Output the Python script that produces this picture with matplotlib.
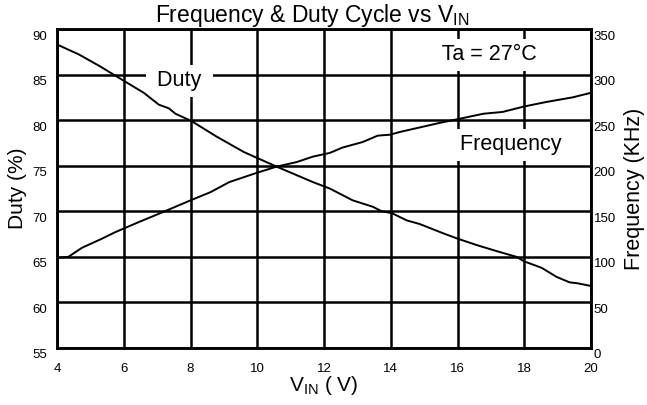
import matplotlib
matplotlib.use("Agg")
import matplotlib.pyplot as plt
import matplotlib.transforms as mtransforms

plt.rcParams['font.family'] = ['Liberation Sans', 'DejaVu Sans']
plt.rcParams['mathtext.fontset'] = 'custom'
plt.rcParams['mathtext.rm'] = 'Liberation Sans'
plt.rcParams['mathtext.it'] = 'Liberation Sans'

# Duty cycle (%) vs VIN (V)
duty_v = [4.0, 4.66, 5.29, 5.83, 6.6, 7.05, 7.35, 7.55, 8.03, 8.78, 9.6, 10.58, 11.67, 12.17,
          12.86, 13.46, 13.73, 14.03, 14.48, 14.87, 15.56, 16.0, 16.57, 17.2, 17.77, 18.0,
          18.52, 18.97, 19.36, 19.6, 20.0]
duty_pct = [88.3, 87.2, 85.9, 84.7, 83.0, 81.7, 81.3, 80.7, 79.9, 78.2, 76.5, 74.9, 73.2, 72.5,
            71.2, 70.5, 70.0, 69.8, 69.0, 68.6, 67.6, 67.0, 66.3, 65.6, 65.0, 64.5,
            63.8, 62.8, 62.2, 62.1, 61.8]

# Frequency (kHz) vs VIN (V)
freq_v = [4.0, 4.34, 4.75, 5.35, 5.74, 6.44, 7.1, 8.0, 8.6, 9.16, 9.97, 10.58, 11.18, 11.67,
          12.17, 12.56, 13.16, 13.61, 13.97, 14.27, 14.87, 15.47, 16.0, 16.77, 17.35, 18.0,
          18.67, 19.45, 20.0]
freq_khz = [99, 100, 110, 120, 127, 138, 148, 162, 171, 182, 192, 199, 204, 210,
            214, 220, 226, 233, 234, 237, 242, 247, 251, 257, 259, 265,
            270, 275, 280]

x_ticks = [4, 6, 8, 10, 12, 14, 16, 18, 20]
duty_ticks = [55, 60, 65, 70, 75, 80, 85, 90]
freq_ticks = [0, 50, 100, 150, 200, 250, 300, 350]

fig = plt.figure(figsize=(6.47, 4.05), dpi=100)
ax = fig.add_axes([57/647, 57/405, 534/647, 319/405])
ax2 = ax.twinx()

ax.set_xlim(4, 20)
ax.set_ylim(55, 90)
ax2.set_ylim(0, 350)
ax.set_xticks(x_ticks)
ax.set_yticks(duty_ticks)
ax2.set_yticks(freq_ticks)

ax.grid(True, color='black', linewidth=1.8)
ax.set_axisbelow(True)
for a in (ax, ax2):
    for s in a.spines.values():
        s.set_linewidth(1.8)
        s.set_color('black')

ax.plot(duty_v, duty_pct, color='black', linewidth=1.4, zorder=3)
ax2.plot(freq_v, freq_khz, color='black', linewidth=1.4, zorder=3)

ax.tick_params(axis='both', length=0, labelsize=9.5)
ax.tick_params(axis='y', pad=7)
ax.tick_params(axis='x', pad=11)
ax2.tick_params(axis='y', length=0, labelsize=9.5, pad=2)

off = mtransforms.ScaledTranslation(0, -6/100, fig.dpi_scale_trans)
for lab in ax.get_yticklabels() + ax2.get_yticklabels():
    lab.set_transform(lab.get_transform() + off)

ax.set_ylabel('Duty (%)', fontsize=15, labelpad=4)
ax2.set_ylabel('Frequency (KHz)', fontsize=15.5, labelpad=6)
ax.set_xlabel(r'V$_{\mathrm{IN}}$ ( V)', fontsize=15, labelpad=-1)

fig.text(155/647, 1 - 22/405, r'Frequency & Duty Cycle vs V$_{\mathrm{IN}}$',
         ha='left', va='baseline', fontsize=16.5)

box = dict(boxstyle='square,pad=0.25', fc='white', ec='none')
ax.text(7.66, 84.3, ' Duty ', ha='center', va='center',
        fontsize=15.5, zorder=2.5, bbox=box)
ax.text(17.6, 77.3, ' Frequency ', ha='center', va='center',
        fontsize=15.5, zorder=2.5, bbox=box)
ax.text(16.97, 87.15, ' Ta = 27°C ', ha='center', va='center',
        fontsize=15.5, zorder=2.5, bbox=box)

fig.savefig('out.png', dpi=100)
